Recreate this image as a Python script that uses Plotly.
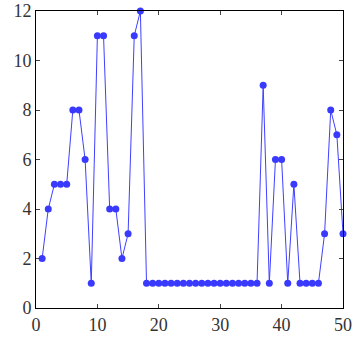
import plotly.graph_objects as go

x_values = list(range(1, 51))
y_values = [2, 4, 5, 5, 5, 8, 8, 6, 1, 11,
            11, 4, 4, 2, 3, 11, 12, 1, 1, 1,
            1, 1, 1, 1, 1, 1, 1, 1, 1, 1,
            1, 1, 1, 1, 1, 1, 9, 1, 6, 6,
            1, 5, 1, 1, 1, 1, 3, 8, 7, 3]
x_ticks = [0, 10, 20, 30, 40, 50]
y_ticks = [0, 2, 4, 6, 8, 10, 12]

fig = go.Figure(go.Scatter(
    x=x_values, y=y_values, mode="lines+markers",
    line=dict(color="#4040ff", width=1),
    marker=dict(color="#3a3aff", size=7),
    cliponaxis=False,
))

axis_common = dict(
    showgrid=False, zeroline=False, showline=True, linecolor="black", linewidth=1,
    mirror="ticks", ticks="inside", ticklen=4, tickcolor="#444", automargin=False,
    tickfont=dict(family="Liberation Serif", size=18, color="#333"),
)
fig.update_xaxes(range=[0, 50], tickvals=x_ticks, **axis_common)
fig.update_yaxes(range=[0, 12], tickvals=y_ticks, **axis_common)

fig.update_layout(
    width=353, height=337,
    margin=dict(l=36, r=10, t=11, b=29),
    paper_bgcolor="white", plot_bgcolor="white",
    font=dict(family="Liberation Serif"),
    showlegend=False,
)
fig.write_html(
    "out.html",
    config={"displayModeBar": False},
    post_script="document.body.style.margin='0';document.body.style.overflow='hidden';",
)
